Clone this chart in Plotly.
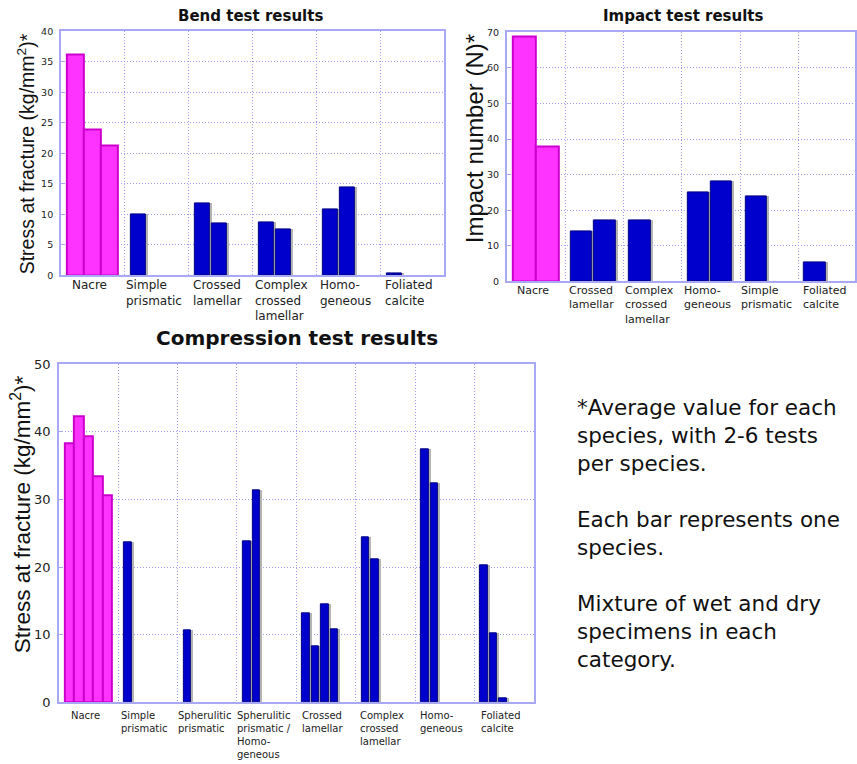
import plotly.graph_objects as go

W, H = 857, 764

# ---------------- data ----------------
bend_categories = ["Nacre", "Simple<br>prismatic", "Crossed<br>lamellar",
                   "Complex<br>crossed<br>lamellar", "Homo-<br>geneous", "Foliated<br>calcite"]
bend_values = [[36.2, 23.9, 21.3], [10.0], [11.8, 8.5], [8.7, 7.5], [10.8, 14.4], [0.3]]

impact_categories = ["Nacre", "Crossed<br>lamellar", "Complex<br>crossed<br>lamellar",
                     "Homo-<br>geneous", "Simple<br>prismatic", "Foliated<br>calcite"]
impact_values = [[69, 38], [14, 17], [17], [25, 28], [24], [5.4]]

compression_categories = ["Nacre", "Simple<br>prismatic", "Spherulitic<br>prismatic",
                          "Spherulitic<br>prismatic /<br>Homo-<br>geneous", "Crossed<br>lamellar",
                          "Complex<br>crossed<br>lamellar", "Homo-<br>geneous", "Foliated<br>calcite"]
compression_values = [[38.3, 42.3, 39.3, 33.5, 30.6], [23.6], [10.7], [23.8, 31.4],
                      [13.2, 8.3, 14.5, 10.8], [24.4, 21.2], [37.4, 32.4], [20.3, 10.2, 0.6]]

note_paragraphs = ["*Average value for each<br>species, with 2-6 tests<br>per species.",
                   "Each bar represents one<br>species.",
                   "Mixture of wet and dry<br>specimens in each<br>category."]

# ---------------- styles ----------------
PINK, PINK_LINE = "#FF33FF", "#CC00CC"
BLUE, BLUE_LINE = "#0000CC", "#000080"
SHADOW = "#B4B4B4"
AXIS = "#A8A8F4"
GRID = "#9C9CF0"
FONT_W = "DejaVu Sans, Verdana, sans-serif"
FONT_A = "Liberation Sans, Arial, sans-serif"


def vy(y):
    """vertical page position (px from top) corrected for the capture's vertical squeeze"""
    return (y - 6.6) / 0.9806


panels = [
    dict(cats=bend_categories, vals=bend_values, slots=3, box=(61, 445, 31, 275),
         ymax=40, dtick=5, tickfont=9.5, labfont=12, xmax=6, lshift=-1,
         title="Bend test results", tpos=(251, 16), tsize=15,
         ytitle="Stress at fracture (kg/mm<sup>2</sup>)*", ypos=(26, 153), ysize=19.5),
    dict(cats=impact_categories, vals=impact_values, slots=2, box=(508, 857, 32, 281),
         ymax=70, dtick=10, tickfont=9.5, labfont=11, xmax=5.97, lshift=-1,
         title="Impact test results", tpos=(685, 16), tsize=15,
         ytitle="Impact number (N)*", ypos=(475, 138), ysize=24),
    dict(cats=compression_categories, vals=compression_values, slots=5, box=(59, 535, 364, 702),
         ymax=50, dtick=10, tickfont=13, labfont=10, xmax=8, lshift=-6,
         title="Compression test results", tpos=(298, 338), tsize=20,
         ytitle="Stress at fracture (kg/mm<sup>2</sup>)*", ypos=(21, 514), ysize=22.5),
]

fig = go.Figure()
annotations = []
layout = {}

for i, p in enumerate(panels, start=1):
    sfx = "" if i == 1 else str(i)
    xa, ya = f"x{sfx}", f"y{sfx}"
    l, r, t, b = p["box"]
    cat_px = (r - l) / p["xmax"]
    slot = 0.8 / p["slots"]
    gap = 2.0 / cat_px

    sx, sy, sw = [], [], []
    px_, py_, pw_ = [], [], []
    bx, by, bw = [], [], []
    for c, vals in enumerate(p["vals"]):
        for k, v in enumerate(vals):
            center = c + 0.1 + (k + 0.5) * slot
            if c == 0:
                px_.append(center); py_.append(v); pw_.append(slot)
            else:
                bx.append(center - gap / 2); by.append(v); bw.append(slot - gap)
                sx.append(center + gap / 2); sy.append(v); sw.append(slot - gap)

    fig.add_trace(go.Bar(x=sx, y=sy, width=sw, marker=dict(color=SHADOW, line=dict(width=0)),
                         xaxis=xa, yaxis=ya, showlegend=False, hoverinfo="skip"))
    fig.add_trace(go.Bar(x=bx, y=by, width=bw, marker=dict(color=BLUE, line=dict(color=BLUE_LINE, width=1)),
                         xaxis=xa, yaxis=ya, showlegend=False))
    fig.add_trace(go.Bar(x=px_, y=py_, width=pw_, marker=dict(color=PINK, line=dict(color=PINK_LINE, width=2)),
                         xaxis=xa, yaxis=ya, showlegend=False))

    layout[f"xaxis{sfx}"] = dict(
        domain=[l / W, min(r / W, 1.0)], range=[0, p["xmax"]], anchor=ya,
        tickvals=list(range(0, len(p["cats"]) + 1)), showticklabels=False, ticks="",
        showgrid=True, gridcolor=GRID, griddash="1px,2px", gridwidth=1, zeroline=False,
        showline=True, linecolor=AXIS, linewidth=1.5, mirror=True, fixedrange=True)
    layout[f"yaxis{sfx}"] = dict(
        domain=[1 - vy(b) / H, 1 - vy(t) / H], range=[0, p["ymax"]], anchor=xa,
        dtick=p["dtick"], tick0=0, showgrid=True, gridcolor=GRID, griddash="1px,2px", gridwidth=1,
        zeroline=False, showline=True, linecolor=AXIS, linewidth=1.5, mirror=True,
        ticks="inside", ticklen=4, tickcolor=AXIS, ticklabelstandoff=4,
        tickfont=dict(family=FONT_W, size=p["tickfont"], color="#222222"), fixedrange=True)

    for c, lab in enumerate(p["cats"]):
        annotations.append(dict(
            text=lab, xref=xa, yref=f"{ya} domain", x=c + 0.5, y=0, xanchor="center",
            yanchor="top", align="left", yshift=p["lshift"], xshift=-3, showarrow=False,
            font=dict(family=FONT_W, size=p["labfont"], color="#222222")))

    annotations.append(dict(
        text=f"<b>{p['title']}</b>", xref="paper", yref="paper",
        x=p["tpos"][0] / W, y=1 - vy(p["tpos"][1]) / H, xanchor="center", yanchor="middle",
        showarrow=False, font=dict(family=FONT_W, size=p["tsize"], color="#111111")))
    annotations.append(dict(
        text=p["ytitle"], xref="paper", yref="paper", textangle=-90,
        x=p["ypos"][0] / W, y=1 - vy(p["ypos"][1]) / H, xanchor="center", yanchor="middle",
        showarrow=False, font=dict(family=FONT_A, size=p["ysize"], color="#111111")))

note_tops = [393, 505, 589]
for txt, top in zip(note_paragraphs, note_tops):
    annotations.append(dict(
        text=txt, xref="paper", yref="paper", x=576 / W, y=1 - vy(top) / H,
        xanchor="left", yanchor="top", align="left", showarrow=False,
        font=dict(family=FONT_W, size=21.5, color="#111111")))

fig.update_layout(
    width=W, height=H, margin=dict(l=0, r=0, t=0, b=0),
    paper_bgcolor="white", plot_bgcolor="white",
    barmode="overlay", bargap=0, showlegend=False,
    annotations=annotations, **layout)

page_fix = (
    "var h=document.documentElement.style;h.margin='0';h.padding='0';h.overflow='hidden';"
    "var b=document.body.style;b.margin='0';b.padding='0';b.overflow='hidden';"
    "b.fontSize='0';b.lineHeight='0';"
)
fig.write_html("out.html", config=dict(displayModeBar=False), post_script=page_fix)
